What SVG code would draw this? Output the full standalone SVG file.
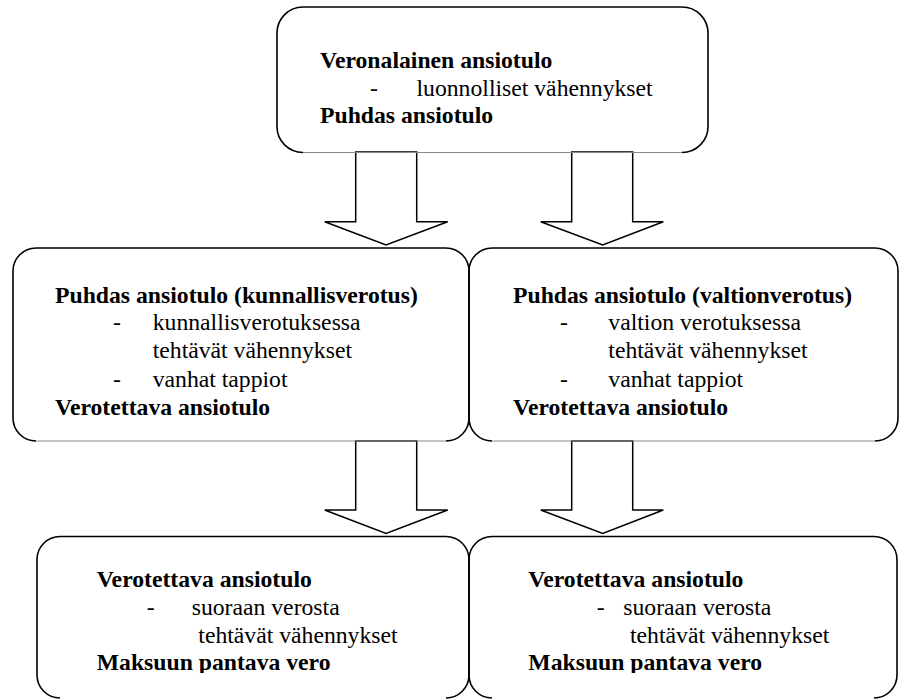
<svg xmlns="http://www.w3.org/2000/svg" width="899" height="700" viewBox="0 0 899 700">
<style>
.box{fill:none;stroke:#000;stroke-width:1.6}
.base{stroke:#8a8a8a;stroke-width:1}
.arr{fill:#fff;stroke:#000;stroke-width:1.5;stroke-linejoin:miter}
text{font-family:'Liberation Serif','Times New Roman',serif;font-size:23.7px;fill:#000}
.b{font-weight:bold}
</style>
<defs>
<clipPath id="cut"><rect x="0" y="0" width="899" height="673"/></clipPath>
</defs>
<rect width="899" height="700" fill="#fff"/>
<g id="connectors">
<polygon class="arr" points="355.7,152 416.7,152 416.7,221.7 447.7,221.7 386,245 324.7,221.7 355.7,221.7"/>
<polygon class="arr" points="571.7,152 632.7,152 632.7,221.7 663.3,221.7 602.7,245 540.7,221.7 571.7,221.7"/>
<polygon class="arr" points="355.7,441 416.7,441 416.7,510 447.7,510 386,533.5 324.7,510 355.7,510"/>
<polygon class="arr" points="571.7,441 632.7,441 632.7,510 663.3,510 602.7,533.5 540.7,510 571.7,510"/>
</g>
<g id="node-top">
<path class="box" d="M303,152.5 A26,26 0 0 1 277,126.5 L277,33 A26,26 0 0 1 303,7 L682,7 A26,26 0 0 1 708,33 L708,126.5 A26,26 0 0 1 682,152.5"/>
<line class="base" x1="303" y1="152.5" x2="682" y2="152.5"/>
<text class="b" x="320" y="68">Veronalainen ansiotulo</text>
<text x="370" y="95.5">-</text>
<text x="416.5" y="95.5">luonnolliset vähennykset</text>
<text class="b" x="320" y="123">Puhdas ansiotulo</text>
</g>
<g id="node-kunnallis">
<path class="box" d="M36,441 A23,23 0 0 1 13,418 L13,271 A23,23 0 0 1 36,248 L446,248 A23,23 0 0 1 469,271 L469,418 A23,23 0 0 1 446,441"/>
<line class="base" x1="36" y1="441" x2="446" y2="441"/>
<text class="b" x="55" y="303">Puhdas ansiotulo (kunnallisverotus)</text>
<text x="113" y="330">-</text>
<text x="152.7" y="330">kunnallisverotuksessa</text>
<text x="152.7" y="358">tehtävät vähennykset</text>
<text x="113" y="386.5">-</text>
<text x="152.7" y="386.5">vanhat tappiot</text>
<text class="b" x="55" y="415">Verotettava ansiotulo</text>
</g>
<g id="node-valtion">
<path class="box" d="M492,441 A23,23 0 0 1 469,418 L469,271 A23,23 0 0 1 492,248 L875,248 A23,23 0 0 1 898,271 L898,418 A23,23 0 0 1 875,441"/>
<line class="base" x1="492" y1="441" x2="875" y2="441"/>
<text class="b" x="513" y="303">Puhdas ansiotulo (valtionverotus)</text>
<text x="560" y="330">-</text>
<text x="608.3" y="330">valtion verotuksessa</text>
<text x="608.3" y="358">tehtävät vähennykset</text>
<text x="560" y="386.5">-</text>
<text x="608.3" y="386.5">vanhat tappiot</text>
<text class="b" x="513" y="415">Verotettava ansiotulo</text>
</g>
<g id="node-vero-left">
<path class="box" d="M60,698 A23,23 0 0 1 37,675 L37,559.5 A23,23 0 0 1 60,536.5 L446,536.5 A23,23 0 0 1 469,559.5 L469,675 A23,23 0 0 1 446,698"/>
<text class="b" x="96.7" y="586.7">Verotettava ansiotulo</text>
<text x="146.7" y="615">-</text>
<text x="191.7" y="615">suoraan verosta</text>
<text x="198.3" y="643">tehtävät vähennykset</text>
<text class="b" x="96.7" y="670" clip-path="url(#cut)">Maksuun pantava vero</text>
</g>
<g id="node-vero-right">
<path class="box" d="M492,698 A23,23 0 0 1 469,675 L469,559.5 A23,23 0 0 1 492,536.5 L874,536.5 A23,23 0 0 1 897,559.5 L897,675 A23,23 0 0 1 874,698"/>
<text class="b" x="528.3" y="586.7">Verotettava ansiotulo</text>
<text x="596.7" y="615">-</text>
<text x="623.3" y="615">suoraan verosta</text>
<text x="630" y="643">tehtävät vähennykset</text>
<text class="b" x="528.3" y="670" clip-path="url(#cut)">Maksuun pantava vero</text>
</g>
</svg>
